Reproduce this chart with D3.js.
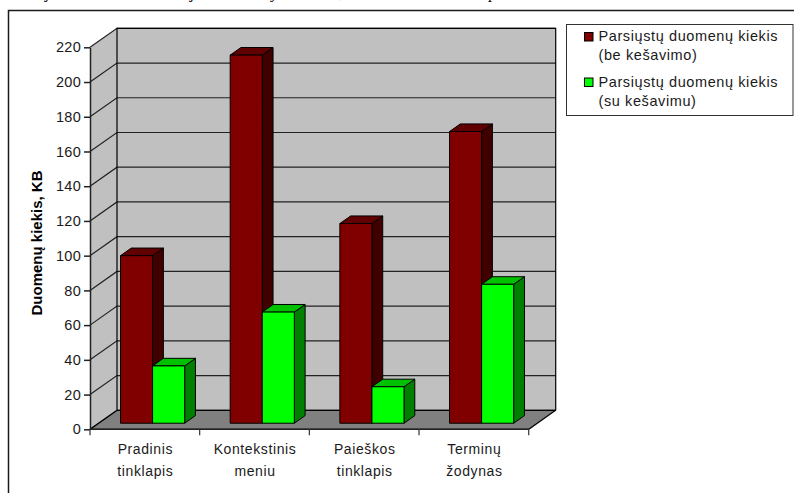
<!DOCTYPE html>
<html>
<head>
<meta charset="utf-8">
<script src="https://cdn.jsdelivr.net/npm/d3@7/dist/d3.min.js"></script>
<style>
html,body{margin:0;padding:0;background:#fff;}
svg{display:block;}
text{font-family:"Liberation Sans",Arial,sans-serif;fill:#1a1a1a;}
</style>
</head>
<body>
<svg id="chart" width="794" height="493"></svg>
<script>
// Chart data
const categories = [["Pradinis","tinklapis"],["Kontekstinis","meniu"],["Paieškos","tinklapis"],["Terminų","žodynas"]];
const seriesNames = ["be", "su"];
const withoutCache = [96.5, 212, 115, 168];
const withCache = [33, 64, 21, 80];
const yTicks = [0,20,40,60,80,100,120,140,160,180,200,220];
const legendLabels = [["Parsiųstų duomenų kiekis","(be kešavimo)"],["Parsiųstų duomenų kiekis","(su kešavimu)"]];
const yTitle = "Duomenų kiekis, KB";

// Descenders of the caption line running off the top of the page
const captionGlyphs = [["j",48],["j",193],["y",275],[",",341],["p",493]];

const svg = d3.select("#chart");
const bandKeys = categories.map((c,i)=>i);

// Front-plane scales
const x = d3.scaleBand().domain(bandKeys).range([90,528.7]);
const y = d3.scaleLinear().domain([0,220]).range([429.3,47.3]);
// Bars inside each band
const sub = d3.scaleBand().domain(seriesNames).range([0,x.bandwidth()]).paddingOuter(0.71);

// Oblique projection of the 3-D box
const depthX = 27, depthY = 19;
const barFront = 0.32, barBack = 0.72;
const barNudgeX = -0.9;
const pts = a => a.map(p=>p.join(",")).join(" ");

// Page frame and caption remnant
svg.append("path").attr("d","M8.5,493V10.5H794").attr("fill","none").attr("stroke","#1a1a1a").attr("stroke-width",1.5);
svg.append("g").selectAll("text").data(captionGlyphs).join("text")
  .attr("x",d=>d[1]).attr("y",-2).attr("text-anchor","middle")
  .style("font-family","'Liberation Serif',serif").style("font-style","italic").style("font-size","16px").style("fill","#000")
  .text(d=>d[0]);

const [x0,x1] = x.range();
const y0 = y(0), yTop = y(220);

// Left wall, back wall, floor
svg.append("polygon").attr("points",pts([[x0,y0],[x0,yTop],[x0+depthX,yTop-depthY],[x0+depthX,y0-depthY]])).attr("fill","#c0c0c0");
svg.append("polygon").attr("points",pts([[x0+depthX,y0-depthY],[x0+depthX,yTop-depthY],[x1+depthX,yTop-depthY],[x1+depthX,y0-depthY]])).attr("fill","#c0c0c0");
svg.append("polygon").attr("points",pts([[x0,y0],[x0+depthX,y0-depthY],[x1+depthX,y0-depthY],[x1,y0]])).attr("fill","#808080");

// Grid lines folding from the left wall onto the back wall
svg.append("g").selectAll("path").data(yTicks).join("path")
  .attr("d",d=>`M${x0},${y(d)}L${x0+depthX},${y(d)-depthY}H${x1+depthX}`)
  .attr("fill","none").attr("stroke","#222").attr("stroke-width",1.2);

// Wall outlines
svg.append("path")
  .attr("d",`M${x0+depthX},${y0-depthY}V${yTop-depthY}H${x1+depthX}V${y0-depthY}L${x1},${y0}H${x0}L${x0+depthX},${y0-depthY}H${x1+depthX}`)
  .attr("fill","none").attr("stroke","#000").attr("stroke-width",1.2);

// Draws one 3-D bar: side face, top face, front face
function drawBar(g, left, value, colors){
  const w = sub.bandwidth();
  const fx = left + depthX*barFront + barNudgeX, fy = -depthY*barFront;
  const dx = depthX*(barBack-barFront), dy = depthY*(barBack-barFront);
  const xl = fx, xr = fx+w, yt = y(value)+fy, yb = y(0)+fy;
  const add = (p,fill)=>g.append("polygon").attr("points",pts(p)).attr("fill",fill)
    .attr("stroke","#000").attr("stroke-width",1).attr("stroke-linejoin","round");
  add([[xr,yt],[xr+dx,yt-dy],[xr+dx,yb-dy],[xr,yb]],colors.side);
  add([[xl,yt],[xl+dx,yt-dy],[xr+dx,yt-dy],[xr,yt]],colors.top);
  add([[xl,yt],[xr,yt],[xr,yb],[xl,yb]],colors.front);
}
const maroon = {front:"#800000",top:"#600000",side:"#400000"};
const green = {front:"#00ff00",top:"#00c000",side:"#008000"};
const barsLayer = svg.append("g");
bandKeys.forEach(i=>{
  drawBar(barsLayer, x(i)+sub("be"), withoutCache[i], maroon);
  drawBar(barsLayer, x(i)+sub("su"), withCache[i], green);
});

// Y axis
const yAxis = d3.axisLeft(y).tickValues(yTicks).tickSize(6).tickPadding(3).tickSizeOuter(0);
const yG = svg.append("g").attr("transform",`translate(${x0},0)`).call(yAxis);
yG.selectAll("text").style("font-size","14.5px").style("letter-spacing","0.3px");
yG.selectAll("line,path").attr("stroke","#222").attr("stroke-width",1.5);

// Category axis
const edges = bandKeys.map(i=>x(i)).concat([x1]);
svg.append("path").attr("d",`M${x0},${y0}H${x1}`).attr("stroke","#222").attr("stroke-width",1.5);
svg.append("g").selectAll("line").data(edges).join("line")
  .attr("x1",d=>d).attr("x2",d=>d).attr("y1",y0).attr("y2",y0+6)
  .attr("stroke","#333").attr("stroke-width",1.2);
const catG = svg.append("g").selectAll("text").data(categories).join("text")
  .attr("text-anchor","middle").style("font-size","14px").style("letter-spacing","0.6px");
catG.each(function(d,i){
  d3.select(this).selectAll("tspan").data(d).join("tspan")
    .attr("x",x(i)+x.bandwidth()/2+0.5).attr("y",(t,j)=>454+j*21.5).text(t=>t);
});

// Y axis title
svg.append("text").attr("transform","translate(41.5,243) rotate(-90)")
  .attr("text-anchor","middle").style("font-size","15px").style("font-weight","bold").style("fill","#000").text(yTitle);

// Legend
svg.append("rect").attr("x",566.5).attr("y",24.5).attr("width",226.5).attr("height",91)
  .attr("fill","#fff").attr("stroke","#333").attr("stroke-width",1);
const legendColors = [maroon.front, green.front];
const leg = svg.append("g").selectAll("g").data(legendLabels).join("g")
  .attr("transform",(d,i)=>`translate(0,${i*45.5})`);
leg.append("rect").attr("x",584.5).attr("y",32.5).attr("width",8.5).attr("height",8.5)
  .attr("fill",(d,i)=>legendColors[i]).attr("stroke","#000");
leg.each(function(d){
  d3.select(this).selectAll("text").data(d).join("text")
    .attr("x",598.5).attr("y",(t,j)=>41+j*19).style("font-size","14.5px").style("letter-spacing","0.6px").text(t=>t);
});
</script>
</body>
</html>
